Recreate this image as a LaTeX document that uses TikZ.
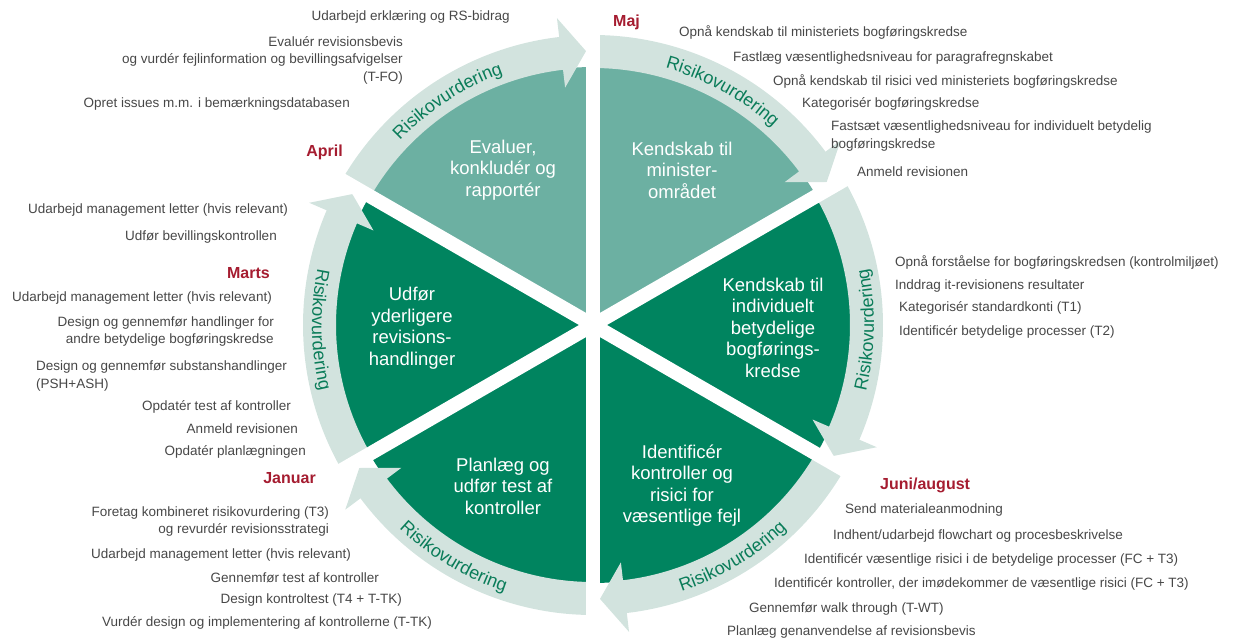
\documentclass[tikz,border=0pt]{standalone}
\usepackage{fontspec}
\setmainfont{Liberation Sans}
\usetikzlibrary{decorations.text}
\definecolor{darkgreen}{HTML}{00845F}
\definecolor{medteal}{HTML}{6CB0A2}
\definecolor{ringlight}{HTML}{D2E3DE}
\definecolor{ringgreen}{HTML}{0A7C59}
\definecolor{monthred}{HTML}{A51C30}
\definecolor{txtgray}{HTML}{474747}
\newcommand{\ringfont}{\fontsize{18}{18}\selectfont}
\begin{document}
\begin{tikzpicture}[x=1pt,y=-1pt,
    lst/.style={font=\fontsize{13.5}{17.5}\selectfont, text=txtgray},
    lstleft/.style={lst, anchor=east, align=right},
    lstright/.style={lst, anchor=west, align=left},
    month/.style={font=\fontsize{16}{18}\selectfont\bfseries, text=monthred},
    phase/.style={font=\fontsize{18.5}{21.5}\selectfont, text=white, align=center},
    gapline/.style={draw=white, line width=14pt},
    ringtext/.style={decorate, decoration={text along path, text align=center,
        text color=ringgreen, text={|\ringfont|Risikovurdering}}}]
    \tikzstyle{every node}+=[inner sep=0pt]
    \useasboundingbox (0,0) rectangle (1236,642);
    \begin{scope}[shift={(593,325)},y=1pt]
    % sectors
    \fill [medteal] (0,0) -- (150:258) arc[start angle=150,end angle=90,radius=258] -- cycle;
    \fill [medteal] (0,0) -- (90:258) arc[start angle=90,end angle=30,radius=258] -- cycle;
    \fill [darkgreen] (0,0) -- (30:258) arc[start angle=30,end angle=-30,radius=258] -- cycle;
    \fill [darkgreen] (0,0) -- (-30:258) arc[start angle=-30,end angle=-90,radius=258] -- cycle;
    \fill [darkgreen] (0,0) -- (-90:258) arc[start angle=-90,end angle=-150,radius=258] -- cycle;
    \fill [darkgreen] (0,0) -- (210:258) arc[start angle=210,end angle=150,radius=258] -- cycle;
    % ring arrows, clockwise
    \fill [ringlight] (150:290) arc[start angle=150,end angle=96.7,radius=290] -- (96.7:309) -- (91.46:274)
        -- (96.7:239) -- (96.7:257) arc[start angle=96.7,end angle=150,radius=257] -- cycle;
    \fill [ringlight] (90:290) arc[start angle=90,end angle=36.7,radius=290] -- (36.7:309) -- (31.46:274)
        -- (36.7:239) -- (36.7:257) arc[start angle=36.7,end angle=90,radius=257] -- cycle;
    \fill [ringlight] (30:290) arc[start angle=30,end angle=-23.3,radius=290] -- (-23.3:309) -- (-28.54:274)
        -- (-23.3:239) -- (-23.3:257) arc[start angle=-23.3,end angle=30,radius=257] -- cycle;
    \fill [ringlight] (-30:290) arc[start angle=-30,end angle=-83.3,radius=290] -- (-83.3:309) -- (-88.54:274)
        -- (-83.3:239) -- (-83.3:257) arc[start angle=-83.3,end angle=-30,radius=257] -- cycle;
    \fill [ringlight] (-90:290) arc[start angle=-90,end angle=-143.3,radius=290] -- (-143.3:309) -- (-148.54:274)
        -- (-143.3:239) -- (-143.3:257) arc[start angle=-143.3,end angle=-90,radius=257] -- cycle;
    \fill [ringlight] (210:290) arc[start angle=210,end angle=156.7,radius=290] -- (156.7:309) -- (151.46:274)
        -- (156.7:239) -- (156.7:257) arc[start angle=156.7,end angle=210,radius=257] -- cycle;
    % white gaps
    \draw [gapline] (90:300) -- (-90:300);
    \draw [gapline] (30:300) -- (210:300);
    \draw [gapline] (-30:300) -- (150:300);
    % ring labels
    \path [ringtext] (163:267) arc[start angle=163,end angle=83,radius=267];
    \path [ringtext] (101:267) arc[start angle=101,end angle=21,radius=267];
    \path [ringtext] (-41:281) arc[start angle=-41,end angle=39,radius=281];
    \path [ringtext] (-99:281) arc[start angle=-99,end angle=-19,radius=281];
    \path [ringtext] (-161:281) arc[start angle=-161,end angle=-81,radius=281];
    \path [ringtext] (141:281) arc[start angle=141,end angle=221,radius=281];
    \end{scope}
    % phases
    \node [phase] (evaluer) at (503,170) {Evaluer,\\konkludér og\\rapportér};
    \node [phase] (minister) at (682,170) {Kendskab til\\minister-\\området};
    \node [phase] (individuelt) at (773,327.5) {Kendskab til\\individuelt\\betydelige\\bogførings-\\kredse};
    \node [phase] (identificer) at (682,485.5) {Identificér\\kontroller og\\risici for\\væsentlige fejl};
    \node [phase] (planlaeg) at (503,486) {Planlæg og\\udfør test af\\kontroller};
    \node [phase] (udfoer) at (412,328) {Udfør\\yderligere\\revisions-\\handlinger};
    % months
    \node [month, anchor=west] (maj) at (613,22) {Maj};
    \node [month, anchor=west] (juni) at (880,485) {Juni/august};
    \node [month, anchor=east] (januar) at (316,478) {Januar};
    \node [month, anchor=east] (marts) at (270,273) {Marts};
    \node [month, anchor=east] (april) at (343,152) {April};
    % tasks, left side
    \node [lstleft] (erklaering) at (510,17) {Udarbejd erklæring og RS-bidrag};
    \node [lstleft] (evalbevis) at (403,60) {Evaluér revisionsbevis\\og vurdér fejlinformation og bevillingsafvigelser\\(T-FO)};
    \node [lstleft] (issues) at (350,104) {Opret issues m.m. i bemærkningsdatabasen};
    \node [lstleft] (mletterA) at (288,210) {Udarbejd management letter (hvis relevant)};
    \node [lstleft] (bevilling) at (277,237) {Udfør bevillingskontrollen};
    \node [lstleft] (mletterB) at (272,298) {Udarbejd management letter (hvis relevant)};
    \node [lstleft] (handlinger) at (274,331.5) {Design og gennemfør handlinger for\\andre betydelige bogføringskredse};
    \node [lstright] (substans) at (36,376) {Design og gennemfør substanshandlinger\\(PSH+ASH)};
    \node [lstleft] (opdtest) at (291,407) {Opdatér test af kontroller};
    \node [lstleft] (anmeldA) at (298,429) {Anmeld revisionen};
    \node [lstleft] (opdplan) at (306,452) {Opdatér planlægningen};
    \node [lstleft] (risikoT3) at (329,521.5) {Foretag kombineret risikovurdering (T3)\\og revurdér revisionsstrategi};
    \node [lstleft] (mletterC) at (351,555) {Udarbejd management letter (hvis relevant)};
    \node [lstleft] (testktr) at (379,578) {Gennemfør test af kontroller};
    \node [lstleft] (kontroltest) at (402,600) {Design kontroltest (T4 + T-TK)};
    \node [lstleft] (designimpl) at (432,623) {Vurdér design og implementering af kontrollerne (T-TK)};
    % tasks, right side
    \node [lstright] (kendskabA) at (679,32) {Opnå kendskab til ministeriets bogføringskredse};
    \node [lstright] (fastlaeg) at (733,58) {Fastlæg væsentlighedsniveau for paragrafregnskabet};
    \node [lstright] (kendskabB) at (773,81) {Opnå kendskab til risici ved ministeriets bogføringskredse};
    \node [lstright] (kategoriA) at (802,104) {Kategorisér bogføringskredse};
    \node [lstright] (fastsaet) at (831,136) {Fastsæt væsentlighedsniveau for individuelt betydelig\\bogføringskredse};
    \node [lstright] (anmeldB) at (857,172) {Anmeld revisionen};
    \node [lstright] (forstaaelse) at (895,262) {Opnå forståelse for bogføringskredsen (kontrolmiljøet)};
    \node [lstright] (itrev) at (895,286) {Inddrag it-revisionens resultater};
    \node [lstright] (kategoriB) at (899,308) {Kategorisér standardkonti (T1)};
    \node [lstright] (processer) at (899,332) {Identificér betydelige processer (T2)};
    \node [lstright] (materiale) at (845,510) {Send materialeanmodning};
    \node [lstright] (flowchart) at (833,536) {Indhent/udarbejd flowchart og procesbeskrivelse};
    \node [lstright] (risici) at (804,560) {Identificér væsentlige risici i de betydelige processer (FC + T3)};
    \node [lstright] (kontroller) at (774,584) {Identificér kontroller, der imødekommer de væsentlige risici (FC + T3)};
    \node [lstright] (walk) at (749,609) {Gennemfør walk through (T-WT)};
    \node [lstright] (genbrug) at (727,632) {Planlæg genanvendelse af revisionsbevis};
\end{tikzpicture}
\end{document}
